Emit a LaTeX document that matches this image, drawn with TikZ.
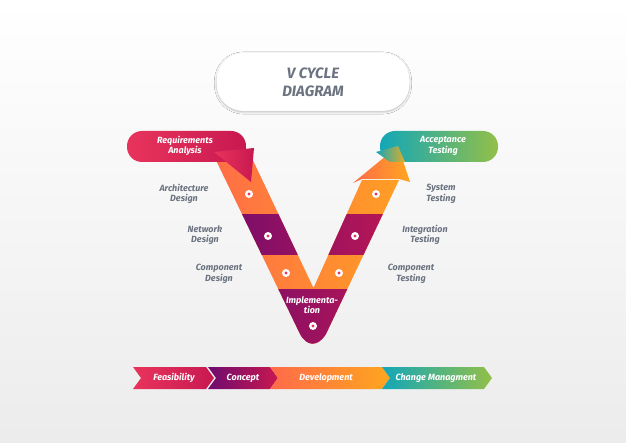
\documentclass[tikz,border=0pt]{standalone}
\usepackage{fontspec}
\setmainfont{Fira Sans}
\usetikzlibrary{shadows.blur}
\definecolor{crim}{HTML}{E8345C}
\definecolor{crimd}{HTML}{C81850}
\definecolor{orA}{HTML}{FF6A4A}
\definecolor{orB}{HTML}{FFA61E}
\definecolor{purp}{HTML}{6E0C6E}
\definecolor{teal}{HTML}{13A7B8}
\definecolor{grn}{HTML}{93BF48}
\definecolor{txt}{HTML}{6B7380}
\tikzset{
 lab/.style={font=\bfseries\itshape\fontsize{9}{10.5}\selectfont, text=txt, align=center},
 wlab/.style={font=\bfseries\itshape\fontsize{9}{10.5}\selectfont, text=white, align=center},
 dotn/.style={circle, fill=white, inner sep=0pt, minimum size=8pt, path picture={\fill[crim] (path picture bounding box.center) circle (1.6pt);}},
}
\begin{document}
\begin{tikzpicture}[x=1pt,y=-1pt]
\useasboundingbox (0,0) rectangle (626,443);
\shade[top color=white, bottom color=gray!15] (0,0) rectangle (626,443);
% title
\node[fill=white, rounded corners=27pt, minimum width=193pt, minimum height=58pt, blur shadow={shadow blur steps=8, shadow xshift=0pt, shadow yshift=-1pt, shadow opacity=25}] (title) at (313,82) {};
\node[font=\bfseries\itshape\fontsize{15}{18}\selectfont, text=txt, align=center] (tt) at (313,82) {V CYCLE\\DIAGRAM};
% V body
\begin{scope}
\clip (212,152) -- (249,152) -- (313.5,288) -- (362,180) -- (399,180) -- (326,334) .. controls (318,347) and (307,347) .. (300,334) -- cycle;
\shade[left color=orA, right color=orB] (200,140) rectangle (430,350);
\shade[left color=purp, right color=crimd] (200,215) rectangle (430,255);
\shade[left color=purp, right color=crimd] (200,290) rectangle (430,350);
\end{scope}
% right arrowhead
\shade[left color=orA, right color=orB] (353,183) -- (362,179) -- (399,179) -- (410,182) -- (398,146) -- cycle;
% left box
\shade[left color=crim, right color=crimd, rounded corners=15pt] (127,131) rectangle (246,162);
\shade[left color=crim, right color=crimd] (214,152) -- (254,148) -- (251,182) -- cycle;
\node[wlab] (req) at (185,146) {Requirements\\Analysis};
% right box
\shade[left color=teal, right color=grn, rounded corners=15pt] (380,131) rectangle (498,162);
\shade[left color=teal, right color=orB!70!grn] (376,152) -- (398,146) -- (405,162) -- (390,162) -- cycle;
\node[wlab] (acc) at (443,146) {Acceptance\\Testing};
% dots
\node[dotn] (d1) at (249,194) {};
\node[dotn] (d2) at (268,236) {};
\node[dotn] (d3) at (286,273) {};
\node[dotn] (d4) at (313,326) {};
\node[dotn] (d5) at (376,194) {};
\node[dotn] (d6) at (355,236) {};
\node[dotn] (d7) at (339,273) {};
\node[wlab] (impl) at (312,305) {Implementa-\\tion};
% labels
\node[lab] (l1) at (184,194) {Architecture\\Design};
\node[lab] (l2) at (205,235) {Network\\Design};
\node[lab] (l3) at (219,274) {Component\\Design};
\node[lab] (r1) at (441,194) {System\\Testing};
\node[lab] (r2) at (425,235) {Integration\\Testing};
\node[lab] (r3) at (411,274) {Component\\Testing};
% chevrons
\shade[left color=crim, right color=crimd] (133,367) -- (206,367) -- (214,378) -- (206,389) -- (133,389) -- (141,378) -- cycle;
\shade[left color=purp, right color=crimd] (208,367) -- (270,367) -- (278,378) -- (270,389) -- (208,389) -- (216,378) -- cycle;
\shade[left color=orA, right color=orB] (270,367) -- (382,367) -- (390,378) -- (382,389) -- (270,389) -- (278,378) -- cycle;
\shade[left color=teal, right color=grn] (382,367) -- (484,367) -- (492,378) -- (484,389) -- (382,389) -- (390,378) -- cycle;
\node[wlab] (c1) at (174,378) {Feasibility};
\node[wlab] (c2) at (243,378) {Concept};
\node[wlab] (c3) at (326,378) {Development};
\node[wlab] (c4) at (436,378) {Change Managment};
\end{tikzpicture}
\end{document}
